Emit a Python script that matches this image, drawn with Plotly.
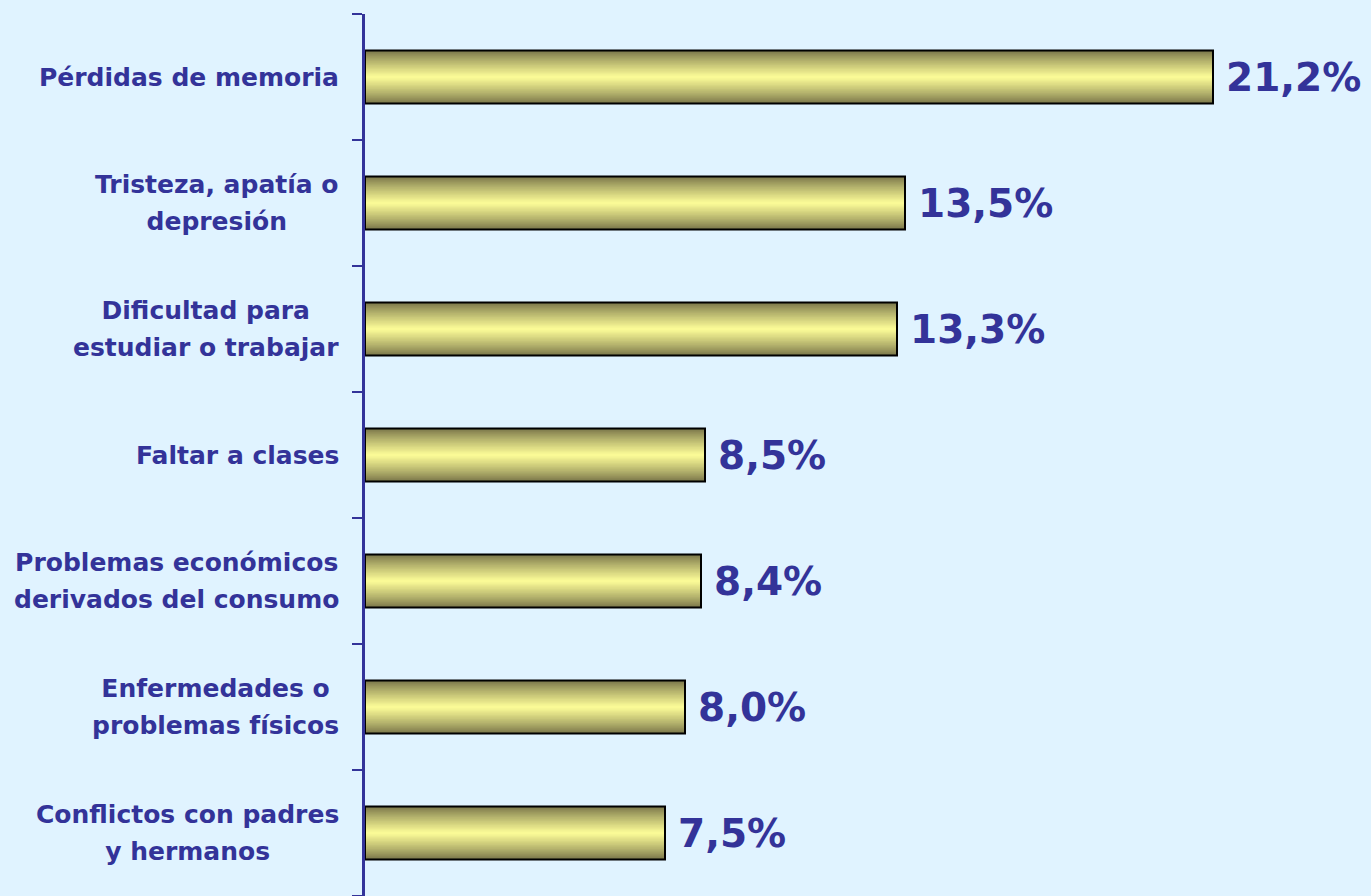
import plotly.graph_objects as go

categories = [
    "Pérdidas de memoria",
    "Tristeza, apatía o<br>depresión",
    "Dificultad para<br>estudiar o trabajar",
    "Faltar a clases",
    "Problemas económicos<br>derivados del consumo",
    "Enfermedades o<br>problemas físicos",
    "Conflictos con padres<br>y hermanos",
]
values = [21.2, 13.5, 13.3, 8.5, 8.4, 8.0, 7.5]
value_labels = [f"{v:.1f}".replace(".", ",") + "%" for v in values]

BG = "#E0F3FF"
TXT = "#333399"
FONT = "DejaVu Sans"
BAR_W = 0.42
ids = list(range(len(categories)))

fig = go.Figure()

dark = (122, 118, 74)
light = (250, 250, 150)
N = 20
for k in range(N):
    t = k / (N - 1)
    e = t ** 0.85
    c = tuple(int(round(dark[i] + (light[i] - dark[i]) * e)) for i in range(3))
    fig.add_trace(go.Bar(
        x=values, y=ids, orientation="h",
        width=BAR_W * (1 - k / N),
        marker=dict(color=f"rgb{c}", line=dict(width=0)),
        hoverinfo="skip", showlegend=False,
    ))
# outline
fig.add_trace(go.Bar(
    x=values, y=ids, orientation="h", width=BAR_W,
    marker=dict(color="rgba(0,0,0,0)", line=dict(color="black", width=2)),
    hoverinfo="skip", showlegend=False,
))

annotations = []
SPAN = "<span style='font-size:25px'>"
for i, (cat, v, lab) in enumerate(zip(categories, values, value_labels)):
    annotations.append(dict(
        x=0, xref="paper", y=i, yref="y", xanchor="right", yanchor="middle",
        xshift=-24, align="center", showarrow=False,
        text=SPAN + cat.replace("<br>", "</span><br>" + SPAN) + "</span>",
        font=dict(family=FONT, size=28.5, color=TXT, weight="bold"),
    ))
    annotations.append(dict(
        x=v, xref="x", y=i, yref="y", xanchor="left", yanchor="middle",
        xshift=11, showarrow=False, text=lab,
        font=dict(family=FONT, size=39, color=TXT, weight="bold"),
    ))

fig.update_layout(
    width=1371, height=896,
    margin=dict(l=365, r=0, t=14, b=0),
    paper_bgcolor=BG, plot_bgcolor=BG,
    barmode="overlay",
    annotations=annotations,
    xaxis=dict(range=[0, 1006 / 40], visible=False, showgrid=False, zeroline=False),
    yaxis=dict(
        type="category", range=[6.5, -0.5], tickson="boundaries",
        ticks="outside", ticklen=10, tickwidth=2, tickcolor=TXT,
        showline=True, linecolor=TXT, linewidth=2.5,
        showticklabels=False, showgrid=False, zeroline=False,
        tickmode="array", tickvals=ids,
    ),
)

fig.write_html(
    "out.html",
    config={"displayModeBar": False},
    post_script="document.body.style.margin='0';document.body.style.overflow='hidden';",
)
